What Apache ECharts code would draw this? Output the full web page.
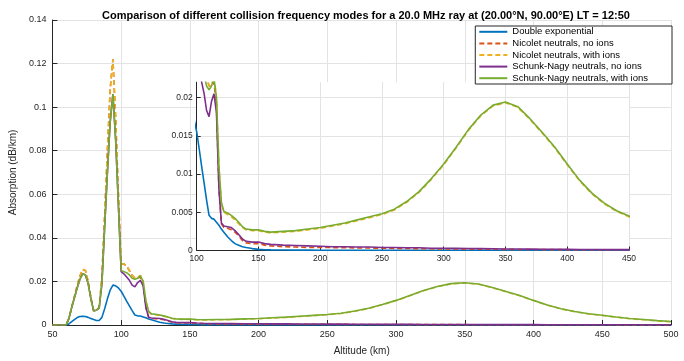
<!DOCTYPE html>
<html>
<head>
<meta charset="utf-8">
<script src="https://cdn.jsdelivr.net/npm/echarts@6/dist/echarts.min.js"></script>
<style>html,body{margin:0;padding:0;background:#fff}#c{width:684px;height:361px}</style>
</head>
<body>
<div id="c"></div>
<script>
// Altitude grid (km)
const altitudes = [50,55,60,62,64,66,68,70,72,74,76,78,80,82,84,86,88,90,92,94,96,98,100,
  102,104,106,108,110,112,114,116,118,120,122,125,128,131,134,137,140,145,150,155,160,
  170,180,190,200,210,220,230,240,250,260,270,280,290,300,310,320,330,340,350,360,370,380,390,400,410,420,430,440,450,460,470,480,490,500];

const seriesNames = ["Double exponential","Nicolet neutrals, no ions","Nicolet neutrals, with ions","Schunk-Nagy neutrals, no ions","Schunk-Nagy neutrals, with ions"];

const doubleExp = [0,0,0,
  0.0005,0.0015,0.0025,0.0034,0.0039,0.004,0.0039,0.0035,0.003,0.0025,0.0021,0.0021,0.0035,0.0075,0.012,0.016,0.0183,0.018,0.017,0.0155,
  0.0133,0.011,0.0088,0.0066,0.0046,0.0042,0.0041,0.0037,0.0033,0.0028,0.0024,
  0.0018,0.0013,0.0009,0.0007,0.0005,0.0004,
  0.00025,0.00015,0.0001,0.00008,
  0.00006,0.00005,0.00005,0.00004,0.00004,0.00004,0.00004,0.00004,0.00004,0.00004,0.00004,0.00004,0.00004,0.00004,0.00004,0.00004,0.00004,
  0.00004,0.00004,0.00004,0.00004,0.00004,0.00004,0.00004,0.00004,0.00004,0.00004,0.00004,0.00004,0.00004,0.00004,0.00004,0.00004,0.00004];

const nicoletNoIons = [0,0,0,
  0.003,0.008,0.013,0.018,0.0225,0.0255,0.025,0.02,0.0125,0.0065,0.007,0.008,0.022,0.05,0.08,0.108,0.122,0.095,0.06,0.028,
  0.028,0.027,0.025,0.0228,0.0215,0.0215,0.022,0.019,0.008,0.0035,0.003,
  0.0029,0.0027,0.0024,0.0019,0.0013,0.001,
  0.0009,0.0009,0.0007,0.0006,
  0.0005,0.00045,0.0004,0.0004,0.00038,0.00036,0.00034,0.00032,0.0003,0.00028,0.00026,0.00024,0.00022,0.0002,
  0.00019,0.00018,0.00017,0.00016,0.00015,0.00014,0.00013,0.00012,0.00012,0.00011,0.0001,0.0001,0.0001,0.00009,0.00009,0.00008,0.00008,0.00008,0.00007,0.00007];

const nicoletWithIons = [0,0,0,
  0.003,0.008,0.013,0.018,0.0225,0.0255,0.025,0.02,0.0125,0.0065,0.007,0.008,0.022,0.05,0.08,0.108,0.122,0.095,0.06,0.028,
  0.028,0.027,0.025,0.0228,0.0215,0.0218,0.0228,0.02,0.011,0.006,0.005,
  0.0047,0.0044,0.004,0.0035,0.003,0.0027,
  0.0026,0.0026,0.0024,0.0023,
  0.0024,0.0025,0.0027,0.0029,0.0032,0.0035,0.0039,0.0043,0.0047,0.0053,0.0063,0.0076,0.0093,0.0112,
  0.0134,0.0157,0.0176,0.0189,0.0193,0.0187,0.0171,0.0153,0.0134,0.0112,0.0091,0.0074,0.0061,0.0051,0.0044,0.0036,0.0029,0.0024,0.0019,0.0015];

const schunkNoIons = [0,0,0,
  0.003,0.008,0.0125,0.017,0.021,0.0235,0.023,0.019,0.012,0.0065,0.0068,0.0078,0.019,0.045,0.07,0.093,0.106,0.085,0.055,0.0245,
  0.0235,0.022,0.0205,0.0183,0.0175,0.0195,0.0205,0.018,0.008,0.0036,0.0032,
  0.0031,0.003,0.0026,0.0021,0.0015,0.0012,
  0.0011,0.0011,0.0009,0.0008,
  0.0007,0.00065,0.0006,0.00055,0.0005,0.0005,0.00045,0.00045,0.0004,0.0004,0.00035,0.00035,0.0003,0.0003,
  0.00028,0.00026,0.00024,0.00022,0.0002,0.00019,0.00018,0.00017,0.00016,0.00015,0.00014,0.00013,0.00012,0.00012,0.00011,0.0001,0.0001,0.0001,0.00009,0.00009];

const schunkWithIons = [0,0,0,
  0.003,0.008,0.0125,0.017,0.021,0.0235,0.023,0.019,0.012,0.0065,0.0068,0.0078,0.019,0.045,0.07,0.093,0.106,0.085,0.055,0.025,
  0.0245,0.024,0.023,0.0215,0.021,0.0215,0.0225,0.02,0.011,0.0063,0.0051,
  0.0049,0.0046,0.0042,0.0037,0.0031,0.0028,
  0.0027,0.0027,0.0025,0.0024,
  0.0025,0.0026,0.0028,0.003,0.0033,0.0036,0.004,0.0044,0.0048,0.0054,0.0064,0.0077,0.0094,0.0113,
  0.0135,0.0158,0.0177,0.019,0.0194,0.0188,0.0172,0.0154,0.0135,0.0113,0.0092,0.0075,0.0062,0.0052,0.0045,0.0037,0.003,0.0025,0.002,0.0016];

const mainXTicks = [50,500,50];   // min, max, interval
const mainYTicks = [0,0.14,0.02];
const insetXTicks = [100,450,50];
const insetYTicks = [0,0.005,0.01,0.015,0.02];
const insetYMax = 0.022;

const colors = ['#0072BD','#D95319','#EDB120','#7E2F8E','#77AC30'];
const dashed = [false,true,true,false,false];
const values = [doubleExp,nicoletNoIons,nicoletWithIons,schunkNoIons,schunkWithIons];

const font = '"Liberation Sans", Arial, Helvetica, sans-serif';
const axisCol = '#262626';
const gridCol = '#e3e3e3';

function pairs(v){ return altitudes.map((a,i)=>[a,v[i]]); }

const series = [];
[0,1].forEach(function(g){
  values.forEach(function(v,i){
    series.push({
      name: seriesNames[i], type:'line', xAxisIndex:g, yAxisIndex:g,
      data: pairs(v), showSymbol:false, symbol:'none', smooth:false, clip:true,
      silent:true, animation:false, z: g===0 ? 2 : 6,
      lineStyle:{color:colors[i], width:1.6, type: dashed[i] ? [5,3] : 'solid'},
      itemStyle:{color:colors[i]}
    });
  });
});

const chart = echarts.init(document.getElementById('c'), null, {renderer:'canvas'});
chart.setOption({
  animation:false,
  backgroundColor:'#fff',
  textStyle:{fontFamily:font},
  title:{
    text:'Comparison of different collision frequency modes for a 20.0 MHz ray at (20.00°N, 90.00°E) LT = 12:50',
    left:361, top:5, textAlign:'center',
    textStyle:{fontSize:11, fontWeight:'bold', color:'#000', fontFamily:font}
  },
  legend:{
    data: seriesNames, orient:'vertical', right:12, top:26,
    itemWidth:28, itemHeight:8, itemGap:0,
    padding:[0,24,0,3],
    itemStyle:{opacity:0},
    backgroundColor:'#fff', borderColor:axisCol, borderWidth:1,
    textStyle:{fontSize:9.5, color:'#000', lineHeight:11.6, fontFamily:font},
    z:20
  },
  grid:[
    {left:46.7, top:20, width:624.3, height:309.3, containLabel:false},
    {left:196.7, top:82.2, width:432.3, height:168.3, show:true, backgroundColor:'#fff', borderWidth:0, z:4}
  ],
  xAxis:[
    {type:'value', gridIndex:0, min:mainXTicks[0], max:mainXTicks[1], interval:mainXTicks[2],
     name:'Altitude (km)', nameLocation:'middle', nameGap:21,
     nameTextStyle:{fontSize:10, color:axisCol, fontFamily:font},
     axisLine:{lineStyle:{color:axisCol, width:1}},
     axisTick:{inside:true, length:5, lineStyle:{color:axisCol}},
     axisLabel:{fontSize:9, color:axisCol, margin:5, fontFamily:font},
     splitLine:{show:true, lineStyle:{color:gridCol, width:1}}},
    {type:'value', gridIndex:1, min:insetXTicks[0], max:insetXTicks[1], interval:insetXTicks[2], z:5,
     axisLine:{lineStyle:{color:axisCol, width:1}},
     axisTick:{inside:true, length:4, lineStyle:{color:axisCol}},
     axisLabel:{fontSize:8.5, color:axisCol, margin:4, fontFamily:font},
     splitLine:{show:true, lineStyle:{color:gridCol, width:1}}}
  ],
  yAxis:[
    {type:'value', gridIndex:0, min:mainYTicks[0], max:mainYTicks[1], interval:mainYTicks[2],
     name:'Absorption (dB/km)', nameLocation:'middle', nameGap:29,
     nameTextStyle:{fontSize:10, color:axisCol, fontFamily:font},
     axisLine:{show:true, lineStyle:{color:axisCol, width:1}},
     axisTick:{show:true, inside:true, length:5, lineStyle:{color:axisCol}},
     axisLabel:{fontSize:9, color:axisCol, margin:6, fontFamily:font},
     splitLine:{show:true, lineStyle:{color:gridCol, width:1}}},
    {type:'value', gridIndex:1, min:0, max:insetYMax, z:5,
     axisLine:{show:true, lineStyle:{color:axisCol, width:1}},
     axisTick:{show:true, inside:true, length:4, lineStyle:{color:axisCol}, customValues:insetYTicks},
     axisLabel:{fontSize:8.5, color:axisCol, margin:4, fontFamily:font, customValues:insetYTicks,
       formatter:function(v){return String(+v.toFixed(3));}},
     splitLine:{show:true, lineStyle:{color:gridCol, width:1}}}
  ],
  series: series
});
</script>
</body>
</html>
